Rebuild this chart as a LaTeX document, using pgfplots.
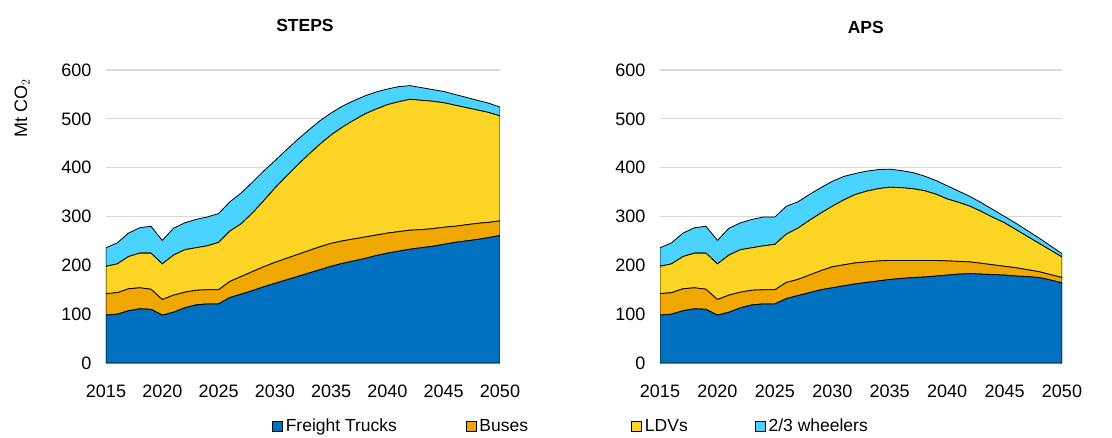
\documentclass[border=0pt]{standalone}
\usepackage{pgfplots}
\pgfplotsset{compat=1.18}
\usepackage{pgfplotstable}
\usepackage{fontspec}
\setmainfont{Liberation Sans}

\definecolor{freight}{HTML}{0070C0}
\definecolor{buses}{HTML}{F0A800}
\definecolor{ldv}{HTML}{FCD424}
\definecolor{wheel}{HTML}{4BD3FF}
\definecolor{gridgray}{HTML}{D9D9D9}

% Mt CO2 by mode: F = freight trucks, B = buses, L = LDVs, W = 2/3 wheelers
\pgfplotstableread{
yr   F   B   L   W
2015 98  44  56  38
2016 100 44  59  43
2017 107 45  66  48
2018 111 43  71  52
2019 110 41  74  55
2020 98  32  73  48
2021 104 35  82  55
2022 113 32  87  55
2023 119 30  87  58
2024 121 29  90  59
2025 121 29  97  59
2026 134 33  103 60
2027 141 36  108 63
2028 148 39  120 63
2029 156 41  135 61
2030 163 43  152 56
2031 170 44  168 54
2032 177 45  183 52
2033 184 46  197 50
2034 191 47  210 48
2035 198 47  222 45
2036 204 46  233 43
2037 209 45  243 40
2038 214 44  252 37
2039 220 42  258 35
2040 225 41  263 32
2041 229 40  266 31
2042 233 39  268 28
2043 236 37  265 26
2044 239 36  261 24
2045 243 35  255 23
2046 247 33  248 22
2047 250 33  240 21
2048 253 33  232 20
2049 257 31  225 19
2050 261 30  215 18
}\steps

\pgfplotstableread{
yr   F   B   L   W
2015 98  44  56  38
2016 100 44  59  43
2017 107 45  66  48
2018 111 43  71  52
2019 110 41  74  55
2020 98  32  73  48
2021 104 35  82  55
2022 113 32  87  55
2023 119 30  87  58
2024 121 29  90  59
2025 121 29  93  56
2026 132 33  99  57
2027 138 33  105 54
2028 144 36  112 53
2029 150 39  118 52
2030 154 43  124 51
2031 158 43  133 48
2032 162 43  140 43
2033 165 42  145 41
2034 168 41  148 39
2035 171 39  150 37
2036 173 37  149 35
2037 175 35  147 33
2038 176 34  143 30
2039 178 32  136 28
2040 180 29  127 27
2041 182 26  121 23
2042 183 24  114 20
2043 182 22  106 18
2044 181 20  97  16
2045 180 18  89  13
2046 178 17  78  13
2047 177 14  68  12
2048 175 12  58  11
2049 170 11  50  9
2050 164 11  42  7
}\aps

\pgfplotsset{
  iea/.style={
    scale only axis,
    height=293pt,
    xmin=2015, xmax=2050, ymin=0, ymax=600,
    stack plots=y,
    axis line style={draw=none},
    major tick length=0pt,
    xtick={2015,2020,...,2050},
    ytick={0,100,...,600},
    ymajorgrids,
    grid style={gridgray, line width=1.3pt},
    /pgf/number format/assume math mode=true,
    x tick label style={/pgf/number format/1000 sep={}, yshift=-18pt},
    y tick label style={xshift=-11pt},
    tick label style={font=\fontsize{18}{21}\selectfont},
    title style={font=\bfseries\fontsize{17.5}{20}\selectfont, anchor=center},
  },
  area/.style={fill=#1, draw=black, line width=0.8pt},
}

\begin{document}
\begin{tikzpicture}
\useasboundingbox (0,0) rectangle (1112pt,437pt);

\begin{axis}[iea,
  at={(106pt,74pt)}, anchor=south west, width=394pt,
  title={STEPS},
  title style={at={(axis description cs:0.505,1.130)}},
  ylabel={Mt CO$_2$},
  ylabel style={at={(axis description cs:-0.213,0.868)}, anchor=center,
    font=\fontsize{18}{21}\selectfont},
  legend columns=4,
  legend style={draw=none, fill=none, inner sep=0pt,
    at={(axis description cs:0.4213,-0.2150)}, anchor=west,
    font=\fontsize{17.5}{20}\selectfont,
    nodes={inner sep=0pt},
    /tikz/every odd column/.append style={column sep=3pt}},
  legend image code/.code={\draw[#1, draw=black, line width=0.6pt] (0pt,-5pt) rectangle (10pt,5pt);},
]
\addplot[area=freight] table[x=yr, y=F] {\steps} \closedcycle;
\addlegendentry{\makebox[180pt][l]{Freight Trucks}}
\addplot[area=buses] table[x=yr, y=B] {\steps} \closedcycle;
\addlegendentry{\makebox[152pt][l]{Buses}}
\addplot[area=ldv] table[x=yr, y=L] {\steps} \closedcycle;
\addlegendentry{\makebox[110pt][l]{LDVs}}
\addplot[area=wheel] table[x=yr, y=W] {\steps} \closedcycle;
\addlegendentry{2/3 wheelers}
\end{axis}

\begin{axis}[iea,
  at={(660pt,74pt)}, anchor=south west, width=402pt,
  title={APS},
  title style={at={(axis description cs:0.512,1.123)}},
]
\addplot[area=freight] table[x=yr, y=F] {\aps} \closedcycle;
\addplot[area=buses] table[x=yr, y=B] {\aps} \closedcycle;
\addplot[area=ldv] table[x=yr, y=L] {\aps} \closedcycle;
\addplot[area=wheel] table[x=yr, y=W] {\aps} \closedcycle;
\end{axis}
\end{tikzpicture}
\end{document}
